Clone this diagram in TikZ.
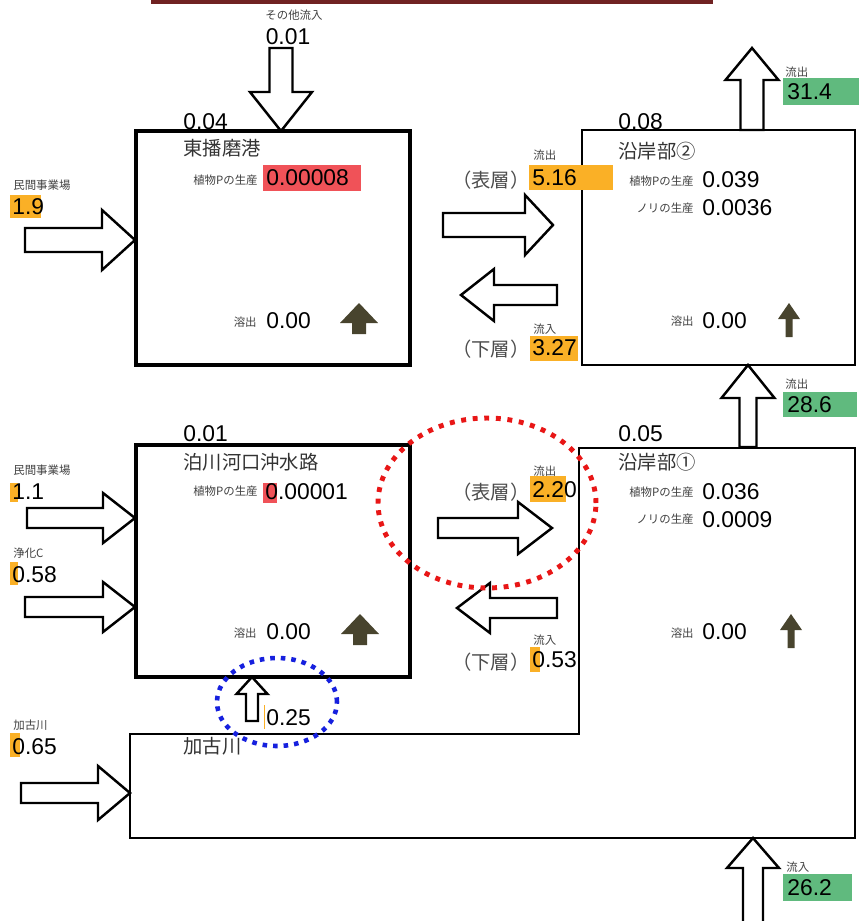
\documentclass[tikz,border=0pt]{standalone}
\usepackage{fontspec}
\setmainfont{Liberation Sans}
\newfontfamily\jp{Noto Sans CJK JP}
\usetikzlibrary{positioning}
\definecolor{Maroon}{RGB}{112, 34, 34}
\definecolor{Tang}{RGB}{250, 176, 38}
\definecolor{Salmon}{RGB}{240, 82, 88}
\definecolor{Leaf}{RGB}{96, 186, 126}
\definecolor{Olive}{RGB}{72, 68, 46}
\definecolor{DotRed}{RGB}{232, 22, 22}
\definecolor{DotBlue}{RGB}{22, 32, 222}

\tikzset{
  pics/fatarrow/.style n args={4}{code={
    \draw[line width=1.4pt, fill=white, line join=miter]
      (0,-#2) -- (#1-#4,-#2) -- (#1-#4,-#3) -- (#1,0) -- (#1-#4,#3) -- (#1-#4,#2) -- (0,#2) -- cycle;
  }},
  pics/bigup/.style={code={
    \fill[Olive] (-19,0) -- (0,-20) -- (19,0) -- (7,0) -- (7,11) -- (-7,11) -- (-7,0) -- cycle;
  }},
  pics/thinup/.style={code={
    \fill[Olive] (-11,0) -- (0,-16) -- (11,0) -- (3.5,0) -- (3.5,18) -- (-3.5,18) -- (-3.5,0) -- cycle;
  }},
}

\begin{document}
\begin{tikzpicture}[x=0.02cm, y=-0.02cm,
    num/.style={font=\fontsize{13}{14}\selectfont, inner sep=0pt},
    tag/.style={font=\jp\fontsize{6.5}{7}\selectfont, inner sep=0pt, text=black!75},
    boxname/.style={font=\jp\fontsize{11}{12}\selectfont, inner sep=0pt, text=black!80},
    depthname/.style={font=\jp\fontsize{11}{12}\selectfont, inner sep=0pt, text=black!70},
    heavybox/.style={draw, line width=1.8pt, minimum width=5.48cm},
    lightbox/.style={draw, line width=1.2pt},
    reddots/.style={DotRed, line width=2.8pt, dash pattern=on 2.8pt off 3.8pt},
    bluedots/.style={DotBlue, line width=2.6pt, dash pattern=on 2.6pt off 3.4pt}]
  \useasboundingbox (0,0) rectangle (859,921);

  % edge of the frame above
  \draw[Maroon, line width=2pt] (151,1.75) -- (713,1.75);

  % boxes
  \node[heavybox, minimum height=4.68cm] (harbor) at (273,248) {};
  \node[lightbox, minimum width=5.46cm, minimum height=4.7cm] (coast2) at (718.5,247.5) {};
  \node[heavybox, minimum height=4.64cm] (channel) at (273,561) {};
  \draw[lightbox] (579,448) coordinate (coast1) -- (855,448) -- (855,838)
    -- (130,838) -- (130,734) coordinate (river) -- (579,734) -- cycle;

  % block arrows
  \pic[rotate=-90] at (281,48) {fatarrow={83}{11.5}{31}{39}};
  \pic at (25,240) {fatarrow={110}{12}{30}{33}};
  \pic at (443,225) {fatarrow={110}{12}{30}{28}};
  \pic[rotate=180] at (557,295) {fatarrow={96}{10}{26}{33}};
  \pic[rotate=90] at (752,130) {fatarrow={82}{11.5}{26.5}{32}};
  \pic[rotate=90] at (748,447) {fatarrow={82}{8.5}{26.5}{33}};
  \pic at (27,518) {fatarrow={108}{10}{25}{32}};
  \pic at (25,607) {fatarrow={110}{10}{25}{32}};
  \pic at (438,528) {fatarrow={114}{10}{26}{34}};
  \pic[rotate=180] at (557,608) {fatarrow={100}{10}{25}{33}};
  \pic[rotate=90] at (252,721) {fatarrow={44}{6}{15.5}{17}};
  \pic at (21,793) {fatarrow={109}{10}{27}{32}};
  \pic[rotate=90] at (753,925) {fatarrow={87}{10}{26}{30}};

  % dissolution arrows
  \pic at (359,323) {bigup};
  \pic at (360,634) {bigup};
  \pic at (789,319) {thinup};
  \pic at (791,630) {thinup};

  % highlights
  \fill[Salmon] (263,165) rectangle (361,191);
  \fill[Salmon] (263,483) rectangle (277,503);
  \fill[Tang] (10,195) rectangle (41,218);
  \fill[Tang] (10,483) rectangle (18,502);
  \fill[Tang] (10,562) rectangle (18,585);
  \fill[Tang] (10,733) rectangle (20,757);
  \fill[Tang] (529,165) rectangle (613,190);
  \fill[Tang] (530,336) rectangle (578,361);
  \fill[Tang] (530,476) rectangle (566,502);
  \fill[Tang] (530,647) rectangle (540,672);
  \fill[Tang] (263.5,705) rectangle (265,729);
  \fill[Leaf] (783,78) rectangle (859,105);
  \fill[Leaf] (783,392) rectangle (857,417);
  \fill[Leaf] (783,874) rectangle (852,901);

  % 東播磨港
  \node[tag] (otherT) at (294,15) {その他流入};
  \node[num] (otherV) at (288,37) {0.01};
  \node[num, anchor=west] (harborV) at (183,122) {0.04};
  \node[boxname, anchor=west] (harborN) at (183,148) {東播磨港};
  \node[tag, anchor=east] (harborPT) at (258,180) {植物Pの生産};
  \node[num, anchor=west] (harborP) at (266,178) {0.00008};
  \node[tag, anchor=east] (harborDT) at (257,322) {溶出};
  \node[num, anchor=west] (harborD) at (266,321) {0.00};
  \node[tag, anchor=west] (plant1T) at (13,185) {民間事業場};
  \node[num, anchor=west] (plant1V) at (12,207) {1.9};

  % 沿岸部②
  \node[num, anchor=west] (coast2V) at (618,122) {0.08};
  \node[boxname, anchor=west] (coast2N) at (618,151) {沿岸部②};
  \node[tag, anchor=east] (coast2PT) at (694,181) {植物Pの生産};
  \node[num, anchor=west] (coast2P) at (702,180) {0.039};
  \node[tag, anchor=east] (coast2NT) at (694,208) {ノリの生産};
  \node[num, anchor=west] (coast2Nori) at (702,208) {0.0036};
  \node[tag, anchor=east] (coast2DT) at (694,321) {溶出};
  \node[num, anchor=west] (coast2D) at (702,321) {0.00};
  \node[tag, anchor=west] (out2T) at (785,72) {流出};
  \node[num, anchor=west] (out2V) at (787,92) {31.4};
  \node[tag, anchor=west] (upOutT) at (533,155) {流出};
  \node[depthname, anchor=east] (upTop) at (530,180) {（表層）};
  \node[num, anchor=west] (upOutV) at (532,178) {5.16};
  \node[tag, anchor=west] (upInT) at (533,329) {流入};
  \node[depthname, anchor=east] (upBot) at (530,349) {（下層）};
  \node[num, anchor=west] (upInV) at (532,348) {3.27};
  \node[tag, anchor=west] (out1T) at (785,384) {流出};
  \node[num, anchor=west] (out1V) at (787,405) {28.6};

  % 泊川河口沖水路
  \node[num, anchor=west] (channelV) at (183,434) {0.01};
  \node[boxname, anchor=west] (channelN) at (183,462) {泊川河口沖水路};
  \node[tag, anchor=east] (channelPT) at (258,491) {植物Pの生産};
  \node[num, anchor=west] (channelP) at (265,492) {0.00001};
  \node[tag, anchor=east] (channelDT) at (257,633) {溶出};
  \node[num, anchor=west] (channelD) at (266,632) {0.00};
  \node[tag, anchor=west] (plant2T) at (13,470) {民間事業場};
  \node[num, anchor=west] (plant2V) at (12,492) {1.1};
  \node[tag, anchor=west] (cleanT) at (13,553) {浄化C};
  \node[num, anchor=west] (cleanV) at (12,575) {0.58};
  \node[num, anchor=west] (riverUpV) at (266,718) {0.25};

  % 沿岸部①
  \node[num, anchor=west] (coast1V) at (618,434) {0.05};
  \node[boxname, anchor=west] (coast1N) at (618,462) {沿岸部①};
  \node[tag, anchor=east] (coast1PT) at (694,492) {植物Pの生産};
  \node[num, anchor=west] (coast1P) at (702,492) {0.036};
  \node[tag, anchor=east] (coast1NT) at (694,519) {ノリの生産};
  \node[num, anchor=west] (coast1Nori) at (702,520) {0.0009};
  \node[tag, anchor=east] (coast1DT) at (694,633) {溶出};
  \node[num, anchor=west] (coast1D) at (702,632) {0.00};
  \node[tag, anchor=west] (lowOutT) at (533,471) {流出};
  \node[depthname, anchor=east] (lowTop) at (530,492) {（表層）};
  \node[num, anchor=west] (lowOutV) at (532,490) {2.20};
  \node[tag, anchor=west] (lowInT) at (533,640) {流入};
  \node[depthname, anchor=east] (lowBot) at (530,662) {（下層）};
  \node[num, anchor=west] (lowInV) at (532,660) {0.53};
  \node[tag, anchor=west] (seaInT) at (786,867) {流入};
  \node[num, anchor=west] (seaInV) at (787,888) {26.2};

  % 加古川
  \node[tag, anchor=west] (riverT) at (13,725) {加古川};
  \node[num, anchor=west] (riverV) at (12,747) {0.65};
  \node[boxname, anchor=west] (riverN) at (183,746) {加古川};

  % marks
  \draw[reddots] (487,503) ellipse [x radius=2.18cm, y radius=1.7cm];
  \draw[bluedots] (277,702) ellipse [x radius=1.2cm, y radius=0.88cm];
\end{tikzpicture}
\end{document}
